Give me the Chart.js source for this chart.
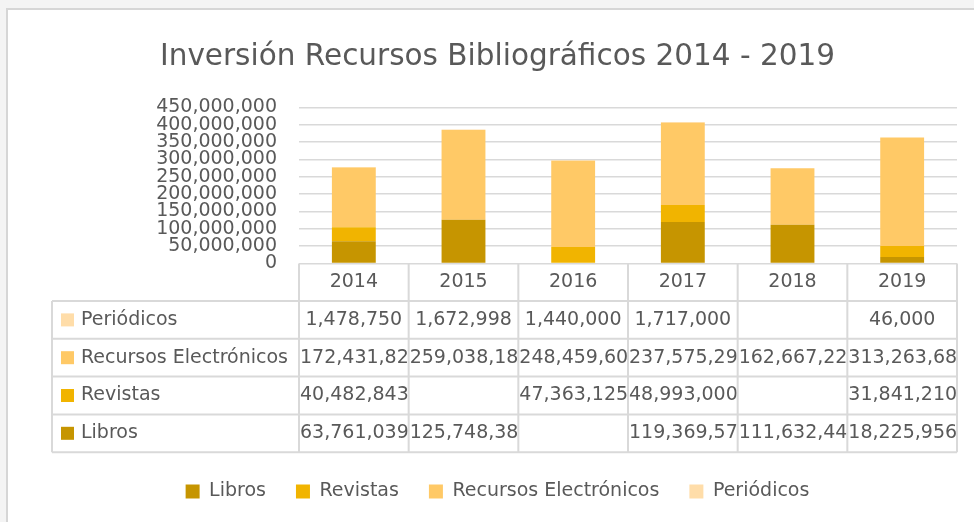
<!DOCTYPE html>
<html>
<head>
<meta charset="utf-8">
<script src="https://cdn.jsdelivr.net/npm/chart.js"></script>
<style>
  html, body { margin: 0; padding: 0; background: #fff; }
  #wrap { width: 974px; height: 522px; }
</style>
</head>
<body>
<div id="wrap"><canvas id="myChart" width="974" height="522"></canvas></div>
<script>
const years = ['2014', '2015', '2016', '2017', '2018', '2019'];
const libros = [63761039, 125748380, null, 119369570, 111632440, 18225956];
const revistas = [40482843, null, 47363125, 48993000, null, 31841210];
const recursos = [172431820, 259038180, 248459600, 237575290, 162667220, 313263680];
const periodicos = [1478750, 1672998, 1440000, 1717000, null, 46000];
const yTicks = [0, 50000000, 100000000, 150000000, 200000000, 250000000,
                300000000, 350000000, 400000000, 450000000];

const seriesNames = ['Libros', 'Revistas', 'Recursos Electrónicos', 'Periódicos'];
const seriesColors = ['#C69500', '#F1B400', '#FFC966', '#FFDDA9'];
const seriesData = [libros, revistas, recursos, periodicos];

const textColor = '#595959';
const gridColor = '#d9d9d9';
const fmt = v => v.toLocaleString('en-US');

Chart.defaults.font.family = '"DejaVu Sans", sans-serif';
Chart.defaults.color = textColor;

// fondo, marco y tabla de datos bajo el eje
const dataTable = {
  id: 'dataTable',
  beforeDraw(chart) {
    const c = chart.ctx;
    c.save();
    c.fillStyle = '#f4f4f4';
    c.fillRect(0, 0, chart.width, chart.height);
    c.fillStyle = '#ffffff';
    c.fillRect(8, 10, chart.width, chart.height);
    c.strokeStyle = '#d6d6d6';
    c.lineWidth = 2;
    c.beginPath();
    c.moveTo(7, chart.height);
    c.lineTo(7, 9);
    c.lineTo(chart.width, 9);
    c.stroke();
    c.restore();
  },
  afterDraw(chart) {
    const c = chart.ctx;
    const area = chart.chartArea;
    const n = years.length;
    const colW = (area.right - area.left) / n;
    const top = 301, rowH = 37.8, left = 52;
    const rows = seriesNames.length;
    const bottom = top + rowH * rows;

    c.save();
    c.strokeStyle = gridColor;
    c.lineWidth = 2;
    c.beginPath();
    for (let i = 0; i <= n; i++) {
      const x = area.left + i * colW;
      c.moveTo(x, area.bottom);
      c.lineTo(x, bottom);
    }
    c.moveTo(left, top);
    c.lineTo(left, bottom);
    for (let r = 0; r <= rows; r++) {
      c.moveTo(left, top + r * rowH);
      c.lineTo(area.right, top + r * rowH);
    }
    c.stroke();

    c.font = '19px "DejaVu Sans"';
    c.fillStyle = textColor;
    c.textBaseline = 'middle';
    for (let r = 0; r < rows; r++) {
      const s = rows - 1 - r; // Periódicos arriba, Libros abajo
      const cy = top + r * rowH + rowH / 2;
      c.fillStyle = seriesColors[s];
      c.fillRect(61, cy - 6.5, 13, 13);
      c.fillStyle = textColor;
      c.textAlign = 'left';
      c.fillText(seriesNames[s], 81, cy);

      seriesData[s].forEach((v, i) => {
        if (v === null) return;
        const x0 = area.left + i * colW;
        const txt = fmt(v);
        const w = c.measureText(txt).width;
        c.save();
        c.beginPath();
        c.rect(x0 + 1, top + r * rowH + 1, colW - 2, rowH - 2);
        c.clip();
        if (w <= colW - 4) {
          c.textAlign = 'center';
          c.fillText(txt, x0 + colW / 2, cy);
        } else {
          c.textAlign = 'left';
          c.fillText(txt, x0 + 1, cy);
        }
        c.restore();
      });
    }
    c.restore();
  }
};

const ctx = document.getElementById('myChart').getContext('2d');
const chart = new Chart(ctx, {
  type: 'bar',
  data: {
    labels: years,
    datasets: seriesNames.map((name, i) => ({
      label: name,
      data: seriesData[i],
      backgroundColor: seriesColors[i],
      borderWidth: 0,
      barPercentage: 0.4,
      categoryPercentage: 1
    }))
  },
  options: {
    responsive: false,
    animation: false,
    layout: { padding: { left: 38, right: 17, top: 10, bottom: 11 } },
    plugins: {
      title: {
        display: true,
        text: 'Inversión Recursos Bibliográficos 2014 - 2019',
        color: textColor,
        font: { size: 29.5, weight: 'normal' },
        padding: { top: 30, bottom: 32 }
      },
      legend: {
        position: 'bottom',
        labels: {
          boxWidth: 14,
          boxHeight: 14,
          padding: 30,
          color: textColor,
          font: { size: 19 }
        }
      },
      tooltip: { enabled: false }
    },
    scales: {
      x: {
        stacked: true,
        grid: { display: false },
        border: { display: false },
        ticks: { font: { size: 19 }, color: textColor, padding: -1 },
        afterFit: scale => { scale.height = 188.6; }
      },
      y: {
        stacked: true,
        min: 0,
        max: 450000000,
        afterBuildTicks: scale => { scale.ticks = yTicks.map(v => ({ value: v })); },
        grid: { color: gridColor, lineWidth: 1.5, drawTicks: false },
        border: { display: false },
        ticks: {
          autoSkip: false,
          font: { size: 19 },
          color: textColor,
          padding: 22,
          callback: v => fmt(v)
        },
        afterFit: scale => { scale.width = 261; }
      }
    }
  },
  plugins: [dataTable]
});
</script>
</body>
</html>
